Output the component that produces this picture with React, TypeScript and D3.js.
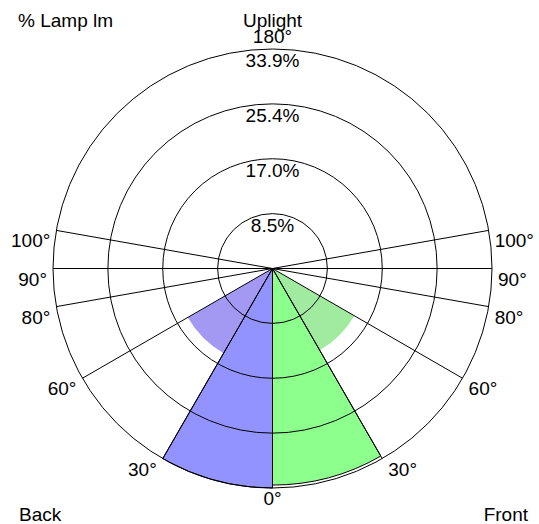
import * as d3 from "d3"

const ringValues = [8.475, 16.95, 25.425, 33.9]
const ringLabels = ["8.5%", "17.0%", "25.4%", "33.9%"]
const angleTicks = [0, 30, 60, 80, 90, 100]
const zones = [
  [0, 30],
  [30, 60],
]
const backValues = [33.9, 15.1]
const frontValues = [33.45, 14.6]
const backColors = ["#9393ff", "#a398f2"]
const frontColors = ["#8cff8c", "#a0eba0"]

const W = 539
const H = 524
const cx = 272.5
const cy = 268.5
const R = 219.5
const font = "'Liberation Sans', Arial, sans-serif"
const fs = 19

const App = () => {
  const r = d3.scaleLinear().domain([0, ringValues[ringValues.length - 1]]).range([0, R])
  const rad = (deg: number) => (deg * Math.PI) / 180
  const pt = (deg: number, radius: number, side: number) => [
    cx + side * radius * Math.sin(rad(deg)),
    cy + radius * Math.cos(rad(deg)),
  ]

  // d3.arc angles: 0 at 12 o'clock, clockwise. Down = PI.
  const wedge = (z: number[], v: number, side: number) => {
    const a0 = Math.PI - side * rad(z[0])
    const a1 = Math.PI - side * rad(z[1])
    return d3
      .arc()
      .innerRadius(0)
      .outerRadius(r(v))
      .startAngle(Math.min(a0, a1))
      .endAngle(Math.max(a0, a1))({} as any) as string
  }

  return (
    <svg
      width={W}
      height={H}
      style={{ position: "absolute", left: 0, top: 0, background: "#fff" }}
      fontFamily={font}
      fontSize={fs}
    >
      <g transform={`translate(${cx},${cy})`}>
        {zones.map((z, i) => (
          <path key={"b" + i} d={wedge(z, backValues[i], -1)} fill={backColors[i]} />
        ))}
        {zones.map((z, i) => (
          <path key={"f" + i} d={wedge(z, frontValues[i], 1)} fill={frontColors[i]} />
        ))}
        <path d={wedge(zones[0], backValues[0], -1)} fill="none" stroke="#000" strokeWidth={1} />
        <path d={wedge(zones[0], frontValues[0], 1)} fill="none" stroke="#000" strokeWidth={1} />
      </g>
      {ringValues.map((v, i) => (
        <circle key={"c" + i} cx={cx} cy={cy} r={r(v)} fill="none" stroke="#000" strokeWidth={1} />
      ))}
      {angleTicks.map((a) =>
        [-1, 1].map((s) => {
          const [x, y] = pt(a, R, s)
          return <line key={a + "l" + s} x1={cx} y1={cy} x2={x} y2={y} stroke="#000" strokeWidth={1} />
        })
      )}
      {ringValues.map((v, i) => (
        <text key={"rl" + i} x={cx} y={cy - r(v) + 18} textAnchor="middle">
          {ringLabels[i]}
        </text>
      ))}
      {angleTicks.map((a) =>
        (a === 0 ? [0] : [-1, 1]).map((s) => {
          const [x, y] = pt(a, R, s === 0 ? 1 : s)
          return (
            <text
              key={a + "t" + s}
              x={x + s * 6}
              y={y + 17}
              textAnchor={s === 0 ? "middle" : s < 0 ? "end" : "start"}
            >
              {a}°
            </text>
          )
        })
      )}
      <text x={cx} y={cy - R - 6} textAnchor="middle">
        180°
      </text>
      <text x={cx} y={27} textAnchor="middle">
        Uplight
      </text>
      <text x={18} y={27}>
        % Lamp lm
      </text>
      <text x={19} y={521}>
        Back
      </text>
      <text x={528} y={521} textAnchor="end">
        Front
      </text>
    </svg>
  )
}

export default App
